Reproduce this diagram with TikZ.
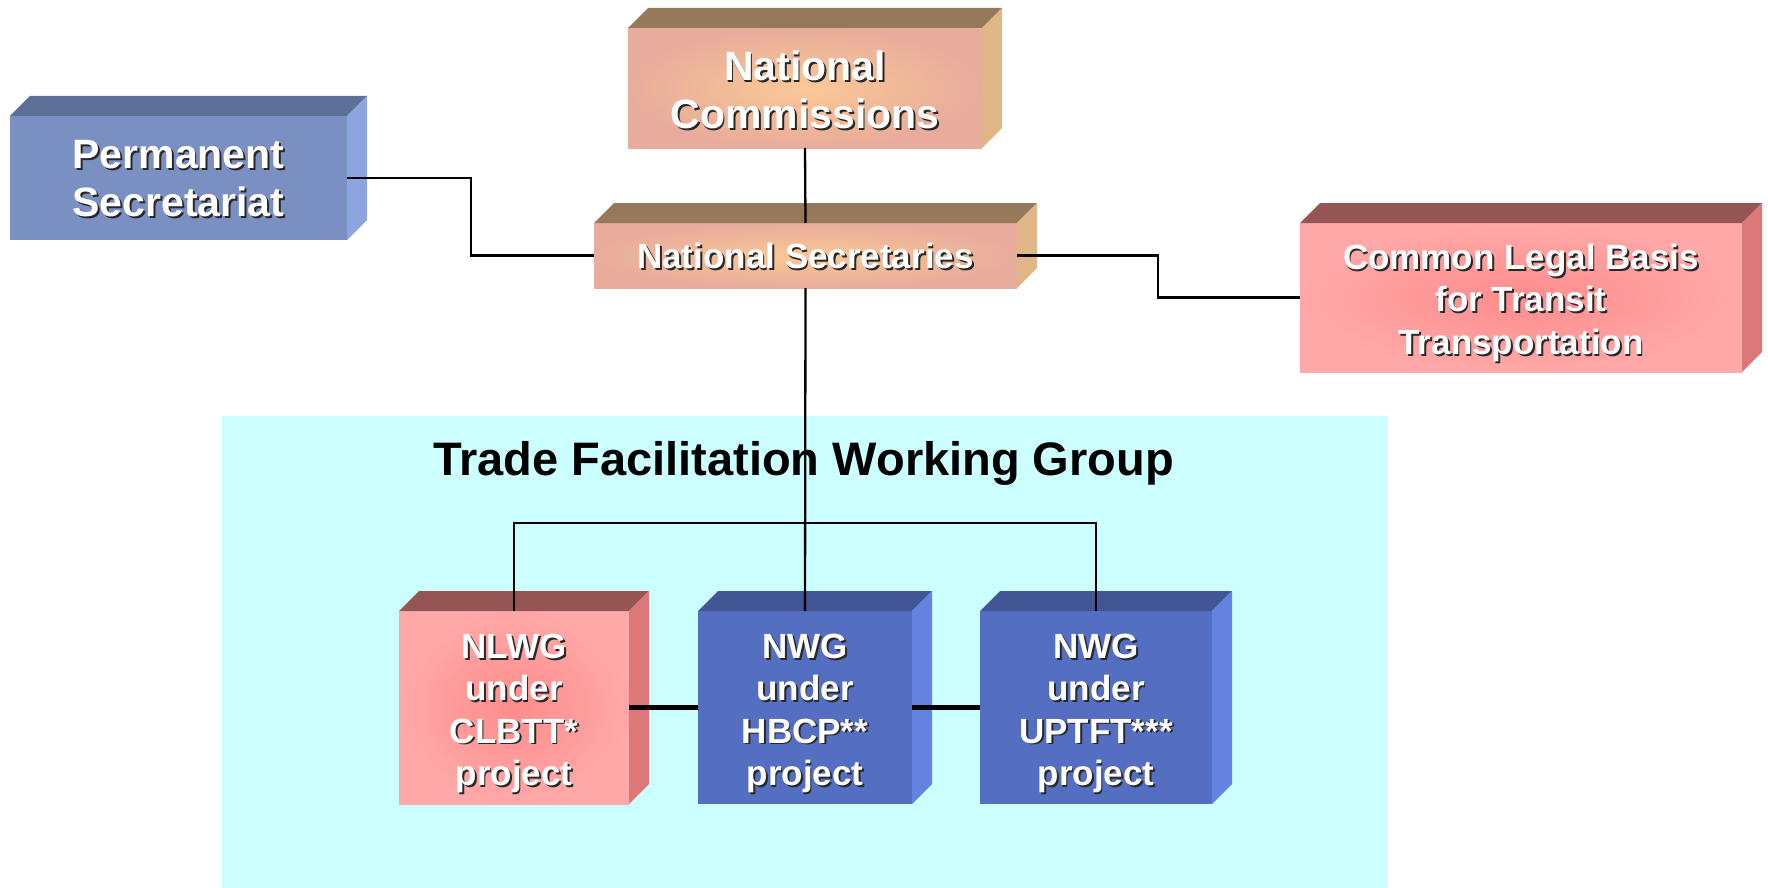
\documentclass[tikz,border=0pt]{standalone}
\usepackage{fontspec}
\setmainfont{Liberation Sans}
\usetikzlibrary{calc}
\definecolor{bgcyan}{RGB}{204,255,255}
\definecolor{psFront}{RGB}{122,143,194}
\definecolor{psTop}{RGB}{94,112,150}
\definecolor{psSide}{RGB}{140,165,222}
\definecolor{ncIn}{RGB}{252,200,150}
\definecolor{ncOut}{RGB}{231,172,155}
\definecolor{ncTop}{RGB}{150,120,90}
\definecolor{ncSide}{RGB}{225,182,135}
\definecolor{clIn}{RGB}{255,140,140}
\definecolor{clOut}{RGB}{255,168,168}
\definecolor{clTop}{RGB}{150,85,85}
\definecolor{clSide}{RGB}{220,120,120}
\definecolor{nwFront}{RGB}{84,110,194}
\definecolor{nwTop}{RGB}{66,86,150}
\definecolor{nwSide}{RGB}{100,130,225}
\definecolor{shadowc}{RGB}{40,40,40}
\newcommand\sh[1]{\makebox[0pt][l]{\kern1.8pt\raisebox{-1.8pt}{\textcolor{shadowc}{#1}}}#1}
\newcommand\txt[2]{\raisebox{-#1}[\height][\depth]{\begin{tabular}{@{}c@{}}#2\end{tabular}}}
\newcommand\boxfaces[3]{%
  \fill[#2] (#1.north west) -- ++(20,-20) -- ($(#1.north east)+(20,-20)$) -- (#1.north east) -- cycle;
  \fill[#3] (#1.north east) -- ++(20,-20) -- ($(#1.south east)+(20,-20)$) -- (#1.south east) -- cycle;
}
\begin{document}
\begin{tikzpicture}[x=1pt,y=-1pt,
  front/.style={rectangle, inner sep=0pt, outer sep=0pt, text=white},
  big/.style={font=\fontsize{41}{48}\selectfont\bfseries},
  mid/.style={font=\fontsize{35}{42.3}\selectfont\bfseries},
  conn/.style={line width=2.3pt, black},
  bar/.style={line width=5pt, black}]
\useasboundingbox (0,0) rectangle (1768,888);
\fill[bgcyan] (222,416) rectangle (1768-380,888);
\node[anchor=base, font=\fontsize{47}{56}\selectfont\bfseries] (title) at (803.5,475) {Trade Facilitation Working Group};
% Permanent Secretariat
\node[front, big, fill=psFront, minimum width=337pt, minimum height=124pt] (ps) at (178.5,178) {\txt{5pt}{\sh{Permanent}\\\sh{Secretariat}}};
\boxfaces{ps}{psTop}{psSide}
% National Commissions
\node[front, big, inner color=ncIn, outer color=ncOut, minimum width=354pt, minimum height=120pt] (nc) at (805,88) {\txt{7pt}{\sh{National}\\\sh{Commissions}}};
\boxfaces{nc}{ncTop}{ncSide}
% National Secretaries
\node[front, mid, inner color=ncIn, outer color=ncOut, minimum width=423pt, minimum height=65pt] (ns) at (805.5,255.5) {\txt{4.5pt}{\sh{National Secretaries}}};
\boxfaces{ns}{ncTop}{ncSide}
% Common Legal Basis
\node[front, mid, inner color=clIn, outer color=clOut, minimum width=442pt, minimum height=149pt] (cl) at (1521,297.5) {\txt{6pt}{\sh{Common Legal Basis}\\\sh{for Transit}\\\sh{Transportation}}};
\boxfaces{cl}{clTop}{clSide}
% bottom boxes
\node[front, mid, inner color=clIn, outer color=clOut, minimum width=230pt, minimum height=193pt] (nl) at (514,707.5) {\txt{6pt}{\sh{NLWG}\\\sh{under}\\\sh{CLBTT*}\\\sh{project}}};
\boxfaces{nl}{clTop}{clSide}
\node[front, mid, fill=nwFront, minimum width=214pt, minimum height=193pt] (n1) at (805,707.5) {\txt{6pt}{\sh{NWG}\\\sh{under}\\\sh{HBCP**}\\\sh{project}}};
\boxfaces{n1}{nwTop}{nwSide}
\node[front, mid, fill=nwFront, minimum width=232pt, minimum height=193pt] (n2) at (1096,707.5) {\txt{6pt}{\sh{NWG}\\\sh{under}\\\sh{UPTFT***}\\\sh{project}}};
\boxfaces{n2}{nwTop}{nwSide}
% connectors
\draw[conn] (nc.south) -- (ns.north);
\draw[conn] (ps.east) -- ++(124,0) |- (ns.west);
\draw[conn] (ns.east) -- ++(141,0) |- (cl.west);
\draw[conn] (ns.south) -- (n1.north);
\draw[conn] (nl.north) -- ++(0,-88) -| (n2.north);
\draw[bar] (nl.east) -- (n1.west);
\draw[bar] (n1.east) -- (n2.west);
\end{tikzpicture}
\end{document}
